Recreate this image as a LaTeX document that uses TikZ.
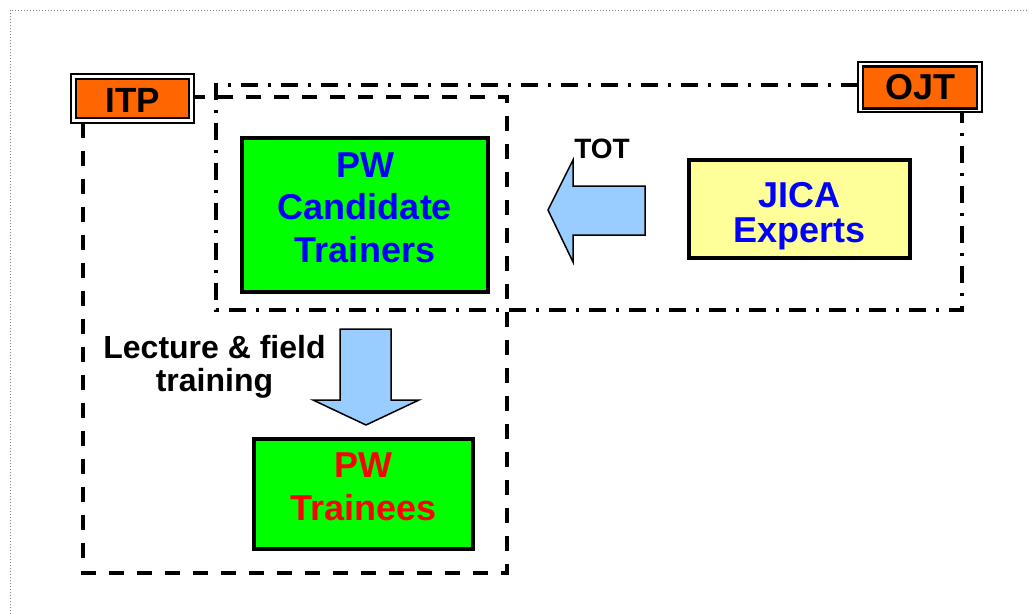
\documentclass[tikz,border=0pt]{standalone}
\usepackage{fontspec}
\setmainfont{Liberation Sans}
\definecolor{boxgreen}{RGB}{0,255,0}
\definecolor{txtblue}{RGB}{0,0,255}
\definecolor{txtred}{RGB}{255,0,0}
\definecolor{jicayellow}{RGB}{255,255,153}
\definecolor{tagorange}{RGB}{255,102,0}
\definecolor{arrowblue}{RGB}{153,204,255}
\begin{document}
\begin{tikzpicture}[x=1pt,y=-1pt,
  mainbox/.style={draw=black,line width=3.5pt,minimum width=#1,inner sep=0pt},
  boxtext/.style={font=\bfseries\fontsize{36}{42.5}\selectfont,align=center,anchor=base,inner sep=0pt},
  tagouter/.style={draw=black,fill=white,line width=1.5pt,inner sep=0pt},
  taginner/.style={draw=black,fill=tagorange,line width=2.5pt,inner sep=0pt},
  tagtext/.style={font=\bfseries\fontsize{35}{40}\selectfont,anchor=base,inner sep=0pt},
  plaintext/.style={font=\bfseries,align=center,anchor=base,inner sep=0pt},
  itpline/.style={line width=3.5pt,dash pattern=on 15pt off 13pt},
  ojtline/.style={line width=3.5pt,dash pattern=on 17pt off 10pt on 3pt off 10pt},
  fatarrow/.style={draw=black,fill=arrowblue,line width=1.5pt,line join=miter}]
\useasboundingbox (0,0) rectangle (1029,614);
% outer dotted frame (cropped)
\draw[gray,line width=1pt,dash pattern=on 1pt off 2pt] (10,614) -- (10,10) -- (1029,10);

% corner coordinates of the dashed areas
\coordinate (itpA) at (83,123);
\coordinate (itpB) at (83,573);
\coordinate (itpC) at (507,573);
\coordinate (itpD) at (507,97);
\coordinate (itpE) at (194,97);
\coordinate (ojtA) at (858,85);
\coordinate (ojtB) at (216,85);
\coordinate (ojtC) at (216,310);
\coordinate (ojtD) at (962,310);
\coordinate (ojtE) at (962,112);

\draw[ojtline] (ojtA) -- (ojtB) -- (ojtC) -- (ojtD) -- (ojtE);
\draw[itpline] (itpA) -- (itpB) -- (itpC) -- (itpD) -- (itpE);

% tags
\node[tagouter,minimum width=123pt,minimum height=49pt] (itpo) at (132.5,98.5) {};
\node[taginner,minimum width=113pt,minimum height=39pt] (itpi) at (132.5,98.5) {};
\node[tagtext] (itpt) at (132.5,112) {ITP};
\node[tagouter,minimum width=124pt,minimum height=50pt] (ojto) at (920,87) {};
\node[taginner,minimum width=114pt,minimum height=42pt] (ojti) at (920,87.5) {};
\node[tagtext,font=\bfseries\fontsize{36}{40}\selectfont] (ojtt) at (920,99) {OJT};

% boxes
\node[mainbox=246pt,minimum height=154pt,fill=boxgreen] (cand) at (365,215) {};
\node[boxtext,text=txtblue] (candt) at (365,262) {PW\\Candidate\\Trainers};
\node[mainbox=221pt,minimum height=98pt,fill=jicayellow] (jica) at (799.5,209) {};
\node[boxtext,text=txtblue,font=\bfseries\fontsize{36}{35}\selectfont] (jicat) at (799.5,242) {JICA\\Experts};
\node[mainbox=219pt,minimum height=110pt,fill=boxgreen] (trainee) at (363.5,494) {};
\node[boxtext,text=txtred] (traineet) at (363.5,520) {PW\\Trainees};

% block arrows
\draw[fatarrow] (645,186) -- (573,186) -- (573,160) -- (548,210) -- (573,262) -- (573,235) -- (645,235) -- cycle;
\draw[fatarrow] (340,329) -- (391,329) -- (391,400) -- (419,400) -- (366,425) -- (313,400) -- (340,400) -- cycle;

% labels
\node[plaintext,font=\bfseries\fontsize{28}{32}\selectfont] (tot) at (602,158) {TOT};
\node[plaintext,font=\bfseries\fontsize{32}{32.5}\selectfont] (lect) at (214.5,391) {Lecture \& field\\training};
\end{tikzpicture}
\end{document}
